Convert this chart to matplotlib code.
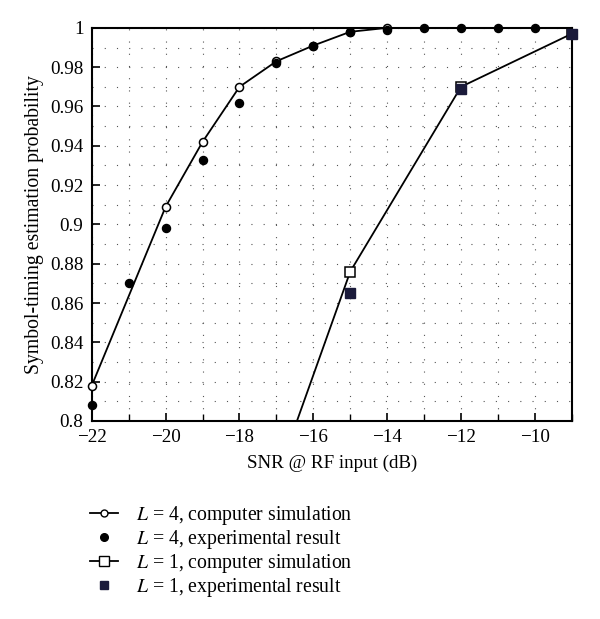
import matplotlib
matplotlib.use("Agg")
import matplotlib.pyplot as plt
from matplotlib.ticker import MultipleLocator

plt.rcParams['font.family'] = ['Liberation Serif', 'DejaVu Serif']
plt.rcParams['mathtext.fontset'] = 'stix'

# Data
snr_sim4 = [-22, -20, -19, -18, -17, -16, -15, -14, -13, -12, -11, -10, -9]
p_sim4 = [0.818, 0.909, 0.942, 0.970, 0.983, 0.991, 0.998, 1.000, 1.000, 1.000, 1.000, 1.000, 1.000]
snr_sim4_markers = [-22, -20, -19, -18, -17, -16, -15, -14]
p_sim4_markers = [0.818, 0.909, 0.942, 0.970, 0.983, 0.991, 0.998, 1.000]

snr_exp4 = [-22, -21, -20, -19, -18, -17, -16, -15, -14, -13, -12, -11, -10]
p_exp4 = [0.808, 0.870, 0.898, 0.933, 0.962, 0.982, 0.991, 0.998, 0.999, 1.000, 1.000, 1.000, 1.000]

snr_sim1 = [-18, -15, -12, -9]
p_sim1 = [0.718, 0.876, 0.970, 0.997]

snr_exp1 = [-15, -12, -9]
p_exp1 = [0.865, 0.969, 0.997]

x_ticks = [-22, -20, -18, -16, -14, -12, -10]
y_ticks = [0.8, 0.82, 0.84, 0.86, 0.88, 0.9, 0.92, 0.94, 0.96, 0.98, 1.0]
y_ticklabels = ['0.8', '0.82', '0.84', '0.86', '0.88', '0.9', '0.92', '0.94', '0.96', '0.98', '1']

navy = '#1a1a3a'

fig = plt.figure(figsize=(6.0, 6.19), dpi=100)
ax = fig.add_axes([0.153, 0.320, 0.800, 0.635])

ax.plot(snr_sim4, p_sim4, color='black', lw=1.3, zorder=3)
ax.plot(snr_sim4_markers, p_sim4_markers, ls='none', marker='o', ms=5.8,
        mfc='white', mec='black', mew=1.1, zorder=4, clip_on=False)
ax.plot(snr_exp4, p_exp4, ls='none', marker='o', ms=5.8, mfc='black',
        mec='black', zorder=5, clip_on=False)
ax.plot(snr_sim1, p_sim1, color='black', lw=1.3, zorder=3)
ax.plot(snr_sim1, p_sim1, ls='none', marker='s', ms=7, mfc='white',
        mec='black', mew=1.1, zorder=4)
ax.plot(snr_exp1, p_exp1, ls='none', marker='s', ms=6.5, mfc=navy,
        mec=navy, zorder=5, clip_on=False)

# legend proxies
h1, = ax.plot([], [], color='black', lw=1.3, marker='o', ms=5, mfc='white', mec='black')
h2, = ax.plot([], [], ls='none', marker='o', ms=5.5, mfc='black', mec='black')
h3, = ax.plot([], [], color='black', lw=1.3, marker='s', ms=6.5, mfc='white', mec='black')
h4, = ax.plot([], [], ls='none', marker='s', ms=5.5, mfc=navy, mec=navy)

ax.set_xlim(-22, -9)
ax.set_ylim(0.8, 1.0)
ax.set_xticks(x_ticks)
ax.set_xticklabels(['\u2212%d' % abs(v) for v in x_ticks])
ax.xaxis.set_minor_locator(MultipleLocator(1))
ax.set_yticks(y_ticks)
ax.set_yticklabels(y_ticklabels)
ax.yaxis.set_minor_locator(MultipleLocator(0.01))

ax.tick_params(which='major', direction='in', length=6, width=1.2, labelsize=13.8, pad=6)
ax.tick_params(which='minor', direction='in', length=5, width=1.0)
ax.tick_params(axis='y', which='minor', length=0)

ax.grid(True, which='both', color='#555555', lw=0.8, ls=(0, (1, 10)))
for s in ax.spines.values():
    s.set_linewidth(1.5)

ax.set_xlabel('SNR @ RF input (dB)', fontsize=13.7, labelpad=6)
ax.set_ylabel('Symbol-timing estimation probability', fontsize=14.2, labelpad=4)

fig.legend([h1, h2, h3, h4],
           [r'$L$ = 4, computer simulation', r'$L$ = 4, experimental result',
            r'$L$ = 1, computer simulation', r'$L$ = 1, experimental result'],
           loc='upper left', bbox_to_anchor=(0.15, 0.186), frameon=False,
           fontsize=14.2, handlelength=1.4, handletextpad=0.95, labelspacing=0.05,
           borderaxespad=0, borderpad=0)

fig.savefig('out.png', dpi=100)
